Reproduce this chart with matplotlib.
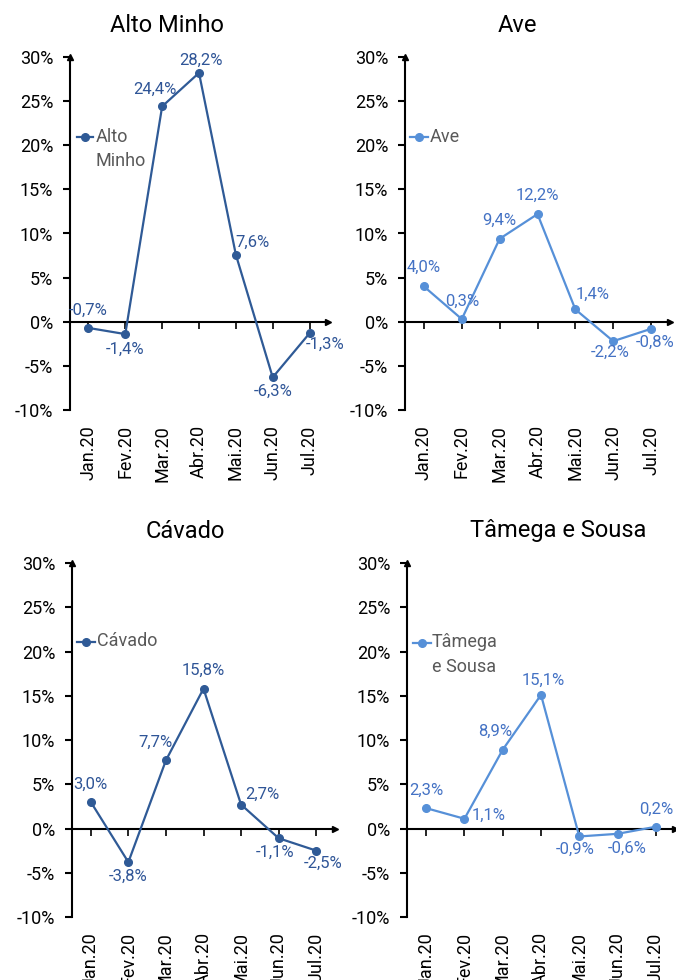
import matplotlib
matplotlib.use("Agg")
import matplotlib.pyplot as plt

plt.rcParams['font.family'] = ['Roboto', 'DejaVu Sans']

months = ["Jan.20", "Fev.20", "Mar.20", "Abr.20", "Mai.20", "Jun.20", "Jul.20"]
regions = ["Alto Minho", "Ave", "Cávado", "Tâmega e Sousa"]
legend_labels = ["Alto\nMinho", "Ave", "Cávado", "Tâmega\ne Sousa"]

alto_minho = [-0.7, -1.4, 24.4, 28.2, 7.6, -6.3, -1.3]
ave = [4.0, 0.3, 9.4, 12.2, 1.4, -2.2, -0.8]
cavado = [3.0, -3.8, 7.7, 15.8, 2.7, -1.1, -2.5]
tamega = [2.3, 1.1, 8.9, 15.1, -0.9, -0.6, 0.2]
series = [alto_minho, ave, cavado, tamega]

y_ticks = [-10, -5, 0, 5, 10, 15, 20, 25, 30]

# styles / positions
line_colors = ["#2F5A96", "#5690D8", "#2F5A96", "#5690D8"]
label_colors = ["#2F5597", "#4472C4", "#2F5597", "#4472C4"]
axes_rects = [
    (70, 57, 328, 410),
    (405, 57, 670, 410),
    (72, 563, 335, 917),
    (407, 563, 675, 917),
]
title_pos = [(167, 25), (517, 25), (185, 531), (558, 531)]
legend_pos = [  # (x0, x1, y, text_x) in axes fraction
    (0.027, 0.089, 0.773, 0.100),
    (0.019, 0.087, 0.773, 0.094),
    (0.019, 0.087, 0.777, 0.095),
    (0.022, 0.090, 0.774, 0.093),
]
label_offsets = [
    [(0, 18), (0, -15), (-7, 17), (2, 13), (17, 12), (0, -14), (16, -11)],
    [(0, 19), (0, 18), (0, 18), (0, 19), (17, 15), (-3, -11), (4, -14)],
    [(0, 18), (0, -14), (-10, 18), (0, 18), (21, 10), (-4, -14), (7, -13)],
    [(0, 18), (24, 3), (-8, 18), (2, 15), (-4, -13), (10, -15), (0, 17)],
]

W, H = 676, 980
fig = plt.figure(figsize=(W / 100, H / 100), dpi=100)

for i in range(4):
    l, t, r, b = axes_rects[i]
    ax = fig.add_axes([l / W, 1 - b / H, (r - l) / W, (b - t) / H])
    x = list(range(len(months)))
    vals = series[i]
    ax.plot(x, vals, color=line_colors[i], lw=1.6, marker='o', ms=5.5, zorder=3, clip_on=False)
    for j, v in enumerate(vals):
        txt = f"{v:.1f}%".replace('.', ',')
        dx, dy = label_offsets[i][j]
        ax.annotate(txt, (j, v), xytext=(dx, dy), textcoords='offset pixels',
                    ha='center', va='center', fontsize=12, color=label_colors[i],
                    annotation_clip=False, zorder=4)
    ax.set_xlim(-0.5, len(months) - 0.5)
    ax.set_ylim(y_ticks[0], y_ticks[-1])
    ax.set_yticks(y_ticks)
    ax.set_yticklabels([f"{t}%" for t in y_ticks])
    for s in ['top', 'right']:
        ax.spines[s].set_visible(False)
    ax.spines['left'].set_linewidth(1.5)
    ax.spines['bottom'].set_position(('data', 0))
    ax.spines['bottom'].set_linewidth(1.5)
    ax.set_xticks(x)
    ax.tick_params(axis='x', direction='out', length=5, width=1.2, labelbottom=False)
    ax.tick_params(axis='y', direction='out', length=5, width=1.5, pad=7, labelsize=13, colors='black')
    sec = ax.secondary_xaxis('bottom')
    sec.set_xticks(x)
    sec.set_xticklabels(months, rotation=90, fontsize=13)
    sec.tick_params(length=0, pad=11)
    sec.spines['bottom'].set_visible(False)
    # arrow heads
    ax.plot(1, 0, marker='>', ms=5, color='black', transform=ax.get_yaxis_transform(), clip_on=False)
    ax.plot(0, 1, marker='^', ms=4, color='black', transform=ax.transAxes, clip_on=False)
    # legend (manual)
    x0, x1, yl, tx = legend_pos[i]
    ax.plot([x0, (x0 + x1) / 2, x1], [yl, yl, yl], color=line_colors[i], lw=1.6,
            marker='o', ms=5.5, markevery=[1], transform=ax.transAxes, clip_on=False)
    ax.text(tx, yl, legend_labels[i], transform=ax.transAxes, ha='left', va='top',
            fontsize=13, color='#595959', linespacing=1.45,
            bbox=None).set_y(yl + 0.027)
    tx_, ty_ = title_pos[i]
    fig.text(tx_ / W, 1 - ty_ / H, regions[i], ha='center', va='center', fontsize=17, color='black')

fig.savefig("out.png", dpi=100)
